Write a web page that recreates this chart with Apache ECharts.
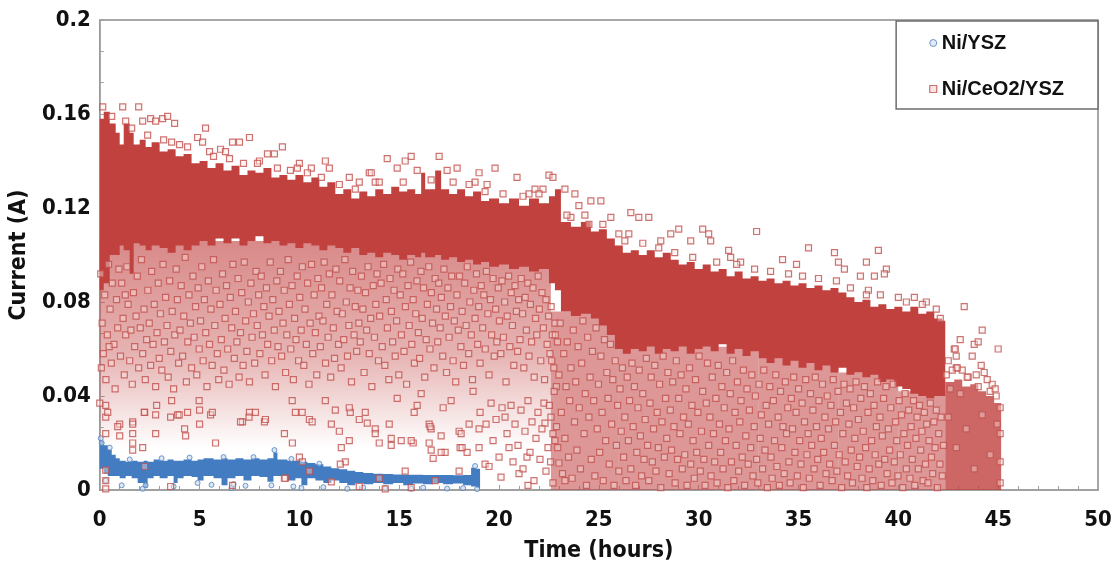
<!DOCTYPE html>
<html>
<head>
<meta charset="utf-8">
<script src="https://cdn.jsdelivr.net/npm/echarts@6/dist/echarts.min.js"></script>
<style>
  html, body { margin: 0; padding: 0; background: #fff; }
  #chart { width: 1115px; height: 574px; }
</style>
</head>
<body>
<div id="chart"></div>
<script>
// ---- Data -------------------------------------------------------------
const seriesNames = ['Ni/YSZ', 'Ni/CeO2/YSZ'];

// Dense core of the Ni/CeO2/YSZ record: [start time (h), top (A), bottom (A)];
// each row holds until the next row starts, the last one until ceriaBandEnd.
const ceriaBand = [
  [0,.158,.085],[0.2,.161,.088],[0.5,.156,.100],[0.8,.152,.100],[1.0,.147,.104],[1.2,.156,.102],
  [1.5,.152,.092],[1.7,.147,.105],[2.0,.149,.104],[2.3,.146,.102],[2.6,.148,.104],[3.0,.144,.103],
  [3.4,.145,.101],[3.8,.142,.104],[4.2,.143,.102],[4.6,.139,.104],[5.0,.140,.106],[5.4,.137,.104],
  [5.8,.139,.107],[6.2,.136,.105],[6.6,.138,.107],[7.0,.134,.104],[7.4,.136,.106],[7.8,.135,.108],
  [8.2,.137,.105],[8.6,.133,.106],[9.0,.134,.104],[9.4,.132,.105],[9.8,.134,.103],[10.2,.131,.105],
  [10.6,.133,.104],[11.0,.129,.102],[11.4,.131,.104],[11.8,.126,.103],[12.2,.128,.101],[12.6,.124,.103],
  [13.0,.127,.100],[13.4,.125,.101],[13.8,.128,.099],[14.2,.126,.101],[14.6,.129,.100],[15.0,.127,.098],
  [15.4,.128,.100],[15.8,.126,.099],[16.1,.135,.101],[16.3,.128,.099],[16.8,.136,.100],[17.1,.128,.098],
  [17.5,.126,.099],[17.9,.128,.097],[18.3,.125,.098],[18.7,.127,.096],[19.1,.123,.097],[19.5,.124,.095],
  [20.0,.122,.096],[20.5,.124,.094],[21.0,.121,.095],[21.5,.124,.093],[22.0,.122,.094],[22.5,.125,.088],
  [22.8,.128,.085],[23.1,.114,.076],[23.6,.112,.074],[24.1,.114,.075],[24.6,.110,.073],[25.0,.111,.070],
  [25.4,.107,.066],[25.8,.104,.060],[26.2,.101,.058],[26.6,.102,.060],[27.0,.100,.059],[27.4,.102,.061],
  [27.8,.099,.058],[28.2,.101,.060],[28.6,.098,.059],[29.0,.096,.061],[29.4,.097,.058],[29.8,.094,.060],
  [30.2,.096,.061],[30.6,.093,.059],[31.0,.094,.062],[31.4,.091,.058],[31.8,.093,.060],[32.2,.090,.057],
  [32.6,.091,.059],[33.0,.089,.056],[33.4,.090,.054],[33.8,.088,.056],[34.2,.089,.053],[34.6,.087,.055],
  [35.0,.088,.052],[35.4,.086,.054],[35.8,.087,.051],[36.2,.085,.053],[36.6,.086,.050],[37.0,.084,.052],
  [37.4,.082,.049],[37.8,.080,.050],[38.2,.081,.048],[38.6,.078,.049],[39.0,.079,.046],[39.4,.077,.047],
  [39.8,.078,.044],[40.2,.076,.043],[40.6,.078,.041],[41.0,.075,.040],[41.4,.076,.039],[41.8,.073,.040],
  [42.2,.072,.040]
];
const ceriaBandEnd = 42.35;

// Final hours (42.35 h to 45.15 h): crowded low-current points, [start, top, bottom]
const ceriaTail = [
  [42.35,.046,0],[42.8,.047,0],[43.2,.044,0],[43.6,.045,0],[44.0,.042,0],[44.4,.040,0],[44.8,.037,0]
];
const ceriaTailEnd = 45.15;

// Scatter spread below the core: [from (h), to (h), low (A), high (A)]
const ceriaUpperSpread = [[0, 22.6, .018, .106]];
const ceriaLowerSpread = [
  [22.6,26.0,0,.076],[26.0,33.0,0,.061],[33.0,37.0,0,.056],[37.0,40.0,0,.050],[40.0,42.35,0,.042]
];

// Individual Ni/CeO2/YSZ readings [time (h), current (A)]
const ceriaPoints = [
  // above the core
  [1.15,.163],[1.95,.163],[1.3,.157],[2.15,.157],[2.55,.158],[2.8,.157],[3.15,.158],[3.4,.159],[3.75,.156],
  [5.3,.154],[3.6,.148],[4.9,.150],[5.15,.148],[5.5,.144],[6.05,.145],[6.3,.144],[6.65,.148],[7.0,.148],
  [7.5,.150],[8.0,.140],[8.4,.143],[8.75,.143],[9.15,.146],[9.55,.136],[10.0,.139],[10.6,.137],[11.3,.140],
  [11.5,.137],[12.5,.133],[13.0,.131],[13.5,.135],[14.4,.141],[15.3,.140],[15.6,.142],[14.9,.137],[15.9,.136],
  [17.0,.142],[17.4,.136],[17.9,.137],[13.6,.135],[19.8,.137],[20.9,.133],[22.5,.134],[13.8,.131],[19.0,.135],
  [18.8,.131],[19.4,.130],[21.8,.128],[22.2,.128],[23.3,.128],[23.8,.126],[24.0,.121],[24.6,.123],[25.1,.123],
  [23.6,.116],[24.5,.113],[25.6,.116],[26.0,.109],[26.5,.109],[26.6,.118],[27.0,.116],[21.5,.126],[22.7,.133],
  [27.5,.116],[29.0,.111],[28.1,.106],[28.6,.109],[29.6,.106],[30.2,.111],[30.5,.109],[30.6,.106],[31.5,.102],
  [31.6,.099],[32.1,.097],[32.9,.110],[34.2,.098],[34.9,.096],[35.5,.103],[36.8,.101],[37.0,.097],[37.3,.094],
  [38.1,.091],[38.8,.091],[39.4,.094],[40.0,.082],[38.5,.085],[39.0,.102],[39.3,.092],[38.4,.097],[40.8,.082],
  [41.4,.080],[42.1,.073],[43.3,.078],[44.2,.068],[43.1,.064],[43.8,.062],[44.0,.063],[45.0,.060],[42.8,.060],
  [42.9,.057],[43.7,.057],[42.9,.052],[43.2,.051],[43.5,.048],[44.0,.044],[44.7,.045],[44.9,.040],
  // along the top edge of the core
  [0.15,.163],[0.6,.159],[1.6,.154],[2.4,.151],[3.2,.149],[4.0,.147],[4.4,.146],[5.7,.142],[6.5,.141],
  [7.2,.139],[7.9,.139],[8.9,.137],[9.9,.137],[10.4,.135],[11.1,.133],[12.0,.130],[12.8,.128],[14.0,.131],
  [15.2,.131],[16.6,.132],[17.7,.131],[18.5,.130],[19.3,.127],[20.2,.126],[21.2,.125],[22.0,.126],[23.4,.117],
  [24.3,.117],[25.2,.113],[26.3,.106],[27.2,.105],[28.0,.103],[28.8,.101],[29.7,.099],[30.9,.097],[31.9,.096],
  [32.8,.094],[33.6,.093],[34.5,.092],[35.2,.091],[36.0,.090],[36.9,.089],[37.6,.086],[38.4,.083],[39.1,.083],
  [40.4,.080],[41.2,.079],[41.9,.077],
  // 0 - 23 h, 0.04 - 0.1 A
  [0.05,.092],[0.12,.071],[0.18,.058],[0.25,.083],[0.31,.047],[0.38,.066],[0.44,.096],[0.52,.077],[0.58,.054],
  [0.63,.088],[0.71,.062],[0.77,.043],[0.84,.081],[0.9,.069],[0.96,.094],[0.08,.052],[0.47,.061],
  [1.04,.057],[1.1,.088],[1.17,.073],[1.23,.049],[1.3,.066],[1.36,.095],[1.42,.079],[1.5,.055],[1.56,.068],
  [1.63,.045],[1.69,.084],[1.75,.061],[1.82,.074],[1.88,.091],[1.95,.052],[1.28,.083],
  [2.03,.069],[2.09,.098],[2.15,.058],[2.22,.077],[2.28,.047],[2.35,.064],[2.41,.085],[2.48,.071],[2.55,.053],
  [2.6,.093],[2.67,.062],[2.73,.079],[2.8,.044],[2.87,.067],[2.93,.088],[2.98,.056],
  [3.04,.075],[3.11,.051],[3.17,.096],[3.24,.063],[3.3,.082],[3.37,.070],[3.43,.048],[3.5,.089],[3.56,.059],
  [3.63,.076],[3.7,.043],[3.76,.066],[3.83,.094],[3.89,.081],[3.95,.054],
  [4.02,.068],[4.08,.087],[4.15,.057],[4.21,.074],[4.28,.099],[4.34,.046],[4.41,.063],[4.47,.083],[4.54,.071],
  [4.6,.052],[4.67,.091],[4.73,.065],[4.8,.078],[4.86,.049],[4.93,.086],[4.98,.060],
  [5.05,.072],[5.11,.095],[5.18,.055],[5.24,.081],[5.31,.067],[5.37,.044],[5.44,.089],[5.5,.062],[5.57,.077],
  [5.63,.053],[5.7,.098],[5.76,.070],[5.83,.085],[5.89,.058],[5.96,.047],
  [6.02,.079],[6.09,.064],[6.15,.092],[6.22,.051],[6.28,.073],[6.35,.087],[6.41,.060],[6.48,.045],[6.54,.082],
  [6.61,.069],[6.67,.096],[6.74,.056],[6.8,.076],[6.87,.063],[6.93,.090],[6.98,.048],
  [7.05,.067],[7.11,.084],[7.18,.053],[7.24,.097],[7.31,.072],[7.37,.059],[7.44,.080],[7.5,.046],[7.57,.088],
  [7.63,.065],[7.7,.075],[7.76,.054],[7.83,.093],[7.89,.070],[7.96,.083],
  [8.02,.058],[8.09,.091],[8.15,.066],[8.22,.078],[8.28,.049],[8.35,.086],[8.41,.062],[8.48,.074],[8.54,.097],
  [8.61,.055],[8.67,.081],[8.74,.068],[8.8,.044],[8.87,.089],[8.93,.061],[8.98,.076],
  [9.05,.093],[9.11,.057],[9.18,.071],[9.24,.085],[9.31,.050],[9.37,.066],[9.44,.098],[9.5,.079],[9.57,.060],
  [9.63,.087],[9.7,.047],[9.76,.073],[9.83,.064],[9.89,.091],[9.96,.055],
  [10.02,.082],[10.09,.068],[10.15,.095],[10.22,.053],[10.28,.077],[10.35,.062],[10.41,.088],[10.48,.045],
  [10.54,.071],[10.61,.096],[10.67,.058],[10.74,.083],[10.8,.067],[10.87,.049],[10.93,.090],[10.98,.074],
  [11.05,.061],[11.11,.086],[11.18,.072],[11.24,.097],[11.31,.054],[11.37,.079],[11.44,.065],[11.5,.092],
  [11.57,.048],[11.63,.083],[11.7,.069],[11.76,.056],[11.83,.094],[11.89,.076],[11.96,.062],
  [12.02,.089],[12.09,.052],[12.15,.075],[12.22,.064],[12.28,.098],[12.35,.080],[12.41,.057],[12.48,.070],
  [12.54,.086],[12.61,.046],[12.67,.093],[12.74,.066],[12.8,.078],[12.87,.059],[12.93,.085],[12.98,.071],
  [13.05,.063],[13.11,.091],[13.18,.077],[13.24,.050],[13.31,.084],[13.37,.068],[13.44,.095],[13.5,.058],
  [13.57,.073],[13.63,.044],[13.7,.087],[13.76,.065],[13.83,.079],[13.89,.092],[13.96,.055],
  [14.02,.074],[14.09,.088],[14.15,.061],[14.22,.096],[14.28,.053],[14.35,.081],[14.41,.069],[14.48,.047],
  [14.54,.090],[14.61,.076],[14.67,.063],[14.74,.085],[14.8,.057],[14.87,.072],[14.93,.094],[14.98,.049],
  [15.05,.083],[15.11,.066],[15.18,.092],[15.24,.059],[15.31,.078],[15.37,.045],[15.44,.087],[15.5,.070],
  [15.57,.097],[15.63,.062],[15.7,.081],[15.76,.054],[15.83,.075],[15.89,.089],[15.96,.067],
  [16.02,.056],[16.09,.093],[16.15,.073],[16.22,.086],[16.28,.048],[16.35,.064],[16.41,.079],[16.48,.095],
  [16.54,.060],[16.61,.084],[16.67,.071],[16.74,.052],[16.8,.090],[16.87,.077],[16.93,.063],[16.98,.088],
  [17.05,.069],[17.11,.082],[17.18,.057],[17.24,.094],[17.31,.074],[17.37,.050],[17.44,.086],[17.5,.065],
  [17.57,.078],[17.63,.091],[17.7,.055],[17.76,.072],[17.83,.046],[17.89,.083],[17.96,.068],
  [18.02,.091],[18.09,.061],[18.15,.076],[18.22,.053],[18.28,.088],[18.35,.070],[18.41,.095],[18.48,.058],
  [18.54,.080],[18.61,.066],[18.67,.047],[18.74,.085],[18.8,.073],[18.87,.092],[18.93,.062],[18.98,.078],
  [19.05,.054],[19.11,.087],[19.18,.069],[19.24,.083],[19.31,.060],[19.37,.093],[19.44,.075],[19.5,.049],
  [19.57,.081],[19.63,.066],[19.7,.090],[19.76,.057],[19.83,.077],[19.89,.063],[19.96,.086],
  [20.02,.072],[20.09,.058],[20.15,.089],[20.22,.065],[20.28,.080],[20.35,.046],[20.41,.074],[20.48,.091],
  [20.54,.061],[20.61,.084],[20.67,.070],[20.74,.053],[20.8,.087],[20.87,.076],[20.93,.059],[20.98,.081],
  [21.05,.064],[21.11,.090],[21.18,.075],[21.24,.052],[21.31,.082],[21.37,.068],[21.44,.088],[21.5,.057],
  [21.57,.079],[21.63,.063],[21.7,.086],[21.76,.048],[21.83,.073],[21.89,.066],[21.96,.091],
  [22.02,.077],[22.09,.055],[22.15,.084],[22.22,.069],[22.28,.047],[22.35,.081],[22.41,.062],[22.48,.074],
  [22.55,.058],[22.61,.078],[22.67,.066],[22.74,.052],[22.8,.071],[22.87,.044],[22.93,.063],
  // 0 - 23 h, below 0.04 A
  [0.3,.036],[0.3,.031],[0.3,.024],[0.3,.0085],[0.3,.004],[0.3,.0005],[1.0,.028],[1.0,.023],[1.65,.029],
  [1.65,.024],[1.65,.020],[1.65,.017],[2.25,.033],[2.15,.018],[2.8,.032],[2.8,.024],[3.55,.031],[3.9,.032],
  [4.25,.026],[4.3,.023],[5.0,.034],[5.0,.028],[5.55,.032],[5.8,.020],[7.15,.029],[7.5,.033],[7.8,.033],
  [8.25,.029],[9.25,.024],[9.65,.020],[9.8,.033],[10.5,.030],[10.0,.014],[10.15,.012],[9.3,.005],[11.6,.028],
  [12.0,.025],[12.1,.018],[12.3,.012],[12.05,.011],[12.5,.021],[12.55,.033],[13.3,.033],[13.8,.026],[13.8,.024],
  [14.0,.020],[14.5,.028],[14.6,.022],[15.1,.021],[15.3,.008],[15.7,.020],[15.75,.033],[16.5,.028],[16.6,.026],
  [16.6,.017],[16.7,.0135],[17.1,.023],[17.3,.016],[18.0,.025],[18.05,.018],[18.4,.016],[18.5,.028],[19.0,.018],
  [19.3,.011],[19.05,.033],[18.0,.008],[16.8,.004],[15.6,.001],[14.3,.0005],[14.0,.005],[13.0,.0015],[11.6,.0035],
  [10.5,.008],[9.25,.005],[6.65,.002],[3.55,.0015],[2.25,.010],[1.65,.028],
  [0.0,.037],[0.4,.033],[0.9,.027],[2.23,.033],[2.85,.036],[3.6,.038],[3.98,.032],[4.4,.033],[4.98,.038],
  [5.64,.033],[7.05,.029],[7.48,.031],[8.3,.030],[9.64,.038],[10.14,.033],[10.64,.029],[11.3,.038],[11.8,.034],
  [12.5,.035],[13.0,.030],[13.4,.0285],[14.6,.019],[15.6,.021],[16.5,.020],[16.55,.027],[17.1,.016],[18.1,.024],
  [18.15,.018],[19.0,.026],[19.5,.010],[20.0,.014],[20.1,.0055],[20.5,.018],[21.0,.007],[21.4,.014],[21.45,.002],
  [22.3,.0285],[22.8,.021],[23.0,.0115],[23.3,.004],
  [20.3,.031],[20.4,.024],[20.6,.036],[20.7,.012],[20.8,.028],[20.95,.019],[21.1,.034],[21.2,.009],[21.3,.025],
  [21.45,.038],[21.55,.016],[21.65,.029],[21.75,.004],[21.85,.022],[21.95,.033],[22.05,.013],[22.15,.026],
  [22.25,.037],[22.35,.008],[22.45,.018],[22.6,.031],[22.7,.024],[20.15,.035],[19.85,.030],[19.7,.021],
  [19.6,.037],[19.35,.028],[14.9,.039],[16.1,.041],[17.6,.038],[18.7,.042],[15.9,.036],[17.2,.035],
  // 22.5 - 42.3 h, below the core
  [22.52,.036],[22.58,.012],[22.64,.055],[22.7,.003],[22.76,.042],[22.82,.066],[22.88,.027],[22.94,.018],
  [23.0,.049],[23.06,.071],[23.12,.033],[23.18,.007],[23.24,.058],[23.3,.022],[23.36,.044],[23.42,.063],[23.48,.014],
  [23.54,.038],[23.6,.052],[23.66,.005],[23.72,.068],[23.78,.029],[23.84,.046],[23.9,.017],[23.96,.061],
  [24.02,.035],[24.08,.009],[24.14,.054],[24.2,.072],[24.26,.024],[24.32,.041],[24.38,.002],[24.44,.065],
  [24.5,.031],[24.56,.048],[24.62,.013],[24.68,.059],[24.74,.038],[24.8,.006],[24.86,.069],[24.92,.026],
  [24.98,.045],[25.04,.016],[25.1,.057],[25.16,.033],[25.22,.004],[25.28,.064],[25.34,.021],[25.4,.050],[25.46,.039],
  [25.52,.011],[25.58,.062],[25.64,.028],[25.7,.047],[25.76,.002],[25.82,.055],[25.88,.019],[25.94,.036],
  [26.0,.008],[26.06,.043],[26.12,.025],[26.18,.052],[26.24,.014],[26.3,.031],[26.36,.004],[26.42,.048],
  [26.48,.021],[26.54,.038],[26.6,.009],[26.66,.054],[26.72,.027],[26.78,.044],[26.84,.002],[26.9,.016],
  [26.96,.035],[27.02,.051],[27.08,.023],[27.14,.006],[27.2,.041],[27.26,.013],[27.32,.030],[27.38,.056],[27.44,.019],
  [27.5,.004],[27.56,.037],[27.62,.048],[27.68,.012],[27.74,.026],[27.8,.053],[27.86,.008],[27.92,.033],
  [27.98,.018],[28.04,.045],[28.1,.001],[28.16,.029],[28.22,.057],[28.28,.014],[28.34,.039],[28.4,.022],[28.46,.050],
  [28.52,.007],[28.58,.034],[28.64,.017],[28.7,.046],[28.76,.027],[28.82,.003],[28.88,.055],[28.94,.013],
  [29.0,.039],[29.06,.024],[29.12,.049],[29.18,.009],[29.24,.031],[29.3,.015],[29.36,.043],[29.42,.002],
  [29.48,.028],[29.54,.052],[29.6,.011],[29.66,.036],[29.72,.021],[29.78,.005],[29.84,.047],[29.9,.016],
  [29.96,.033],[30.02,.057],[30.08,.008],[30.14,.025],[30.2,.042],[30.26,.013],[30.32,.002],[30.38,.037],[30.44,.054],
  [30.5,.019],[30.56,.031],[30.62,.006],[30.68,.048],[30.74,.024],[30.8,.012],[30.86,.039],[30.92,.003],
  [30.98,.053],[31.04,.028],[31.1,.016],[31.16,.044],[31.22,.009],[31.28,.035],[31.34,.021],[31.4,.050],[31.46,.001],
  [31.52,.026],[31.58,.041],[31.64,.012],[31.7,.055],[31.76,.004],[31.82,.033],[31.88,.019],[31.94,.046],
  [32.0,.008],[32.06,.029],[32.12,.038],[32.18,.014],[32.24,.051],[32.3,.002],[32.36,.023],[32.42,.043],
  [32.48,.011],[32.54,.034],[32.6,.018],[32.66,.049],[32.72,.006],[32.78,.027],[32.84,.040],[32.9,.013],
  [32.96,.003],[33.02,.045],[33.08,.022],[33.14,.032],[33.2,.009],[33.26,.051],[33.32,.017],[33.38,.036],[33.44,.001],
  [33.5,.028],[33.56,.044],[33.62,.014],[33.68,.005],[33.74,.038],[33.8,.021],[33.86,.049],[33.92,.010],
  [33.98,.031],[34.04,.002],[34.1,.042],[34.16,.018],[34.22,.027],[34.28,.007],[34.34,.046],[34.4,.024],[34.46,.035],
  [34.52,.012],[34.58,.003],[34.64,.039],[34.7,.026],[34.76,.048],[34.82,.016],[34.88,.033],[34.94,.006],
  [35.0,.043],[35.06,.021],[35.12,.011],[35.18,.037],[35.24,.001],[35.3,.029],[35.36,.047],[35.42,.015],
  [35.48,.024],[35.54,.005],[35.6,.041],[35.66,.019],[35.72,.034],[35.78,.009],[35.84,.048],[35.9,.027],
  [35.96,.013],[36.02,.038],[36.08,.002],[36.14,.022],[36.2,.045],[36.26,.016],[36.32,.031],[36.38,.007],[36.44,.040],
  [36.5,.026],[36.56,.011],[36.62,.036],[36.68,.004],[36.74,.047],[36.8,.019],[36.86,.029],[36.92,.008],
  [36.98,.042],[37.04,.015],[37.1,.033],[37.16,.001],[37.22,.024],[37.28,.045],[37.34,.012],[37.4,.037],
  [37.46,.006],[37.52,.028],[37.58,.043],[37.64,.017],[37.7,.003],[37.76,.035],[37.82,.022],[37.88,.046],
  [37.94,.010],[38.0,.030],[38.06,.014],[38.12,.039],[38.18,.005],[38.24,.025],[38.3,.044],[38.36,.018],[38.42,.001],
  [38.48,.033],[38.54,.009],[38.6,.041],[38.66,.021],[38.72,.004],[38.78,.036],[38.84,.015],[38.9,.027],
  [38.96,.046],[39.02,.011],[39.08,.031],[39.14,.002],[39.2,.023],[39.26,.039],[39.32,.013],[39.38,.044],[39.44,.007],
  [39.5,.026],[39.56,.017],[39.62,.035],[39.68,.003],[39.74,.045],[39.8,.012],[39.86,.029],[39.92,.021],
  [39.98,.006],[40.04,.038],[40.1,.015],[40.16,.032],[40.22,.001],[40.28,.024],[40.34,.041],[40.4,.009],
  [40.46,.019],[40.52,.034],[40.58,.005],[40.64,.027],[40.7,.013],[40.76,.038],[40.82,.002],[40.88,.022],
  [40.94,.031],[41.0,.009],[41.06,.036],[41.12,.017],[41.18,.025],[41.24,.004],[41.3,.033],[41.36,.011],[41.42,.028],
  [41.48,.003],[41.54,.021],[41.6,.037],[41.66,.014],[41.72,.007],[41.78,.029],[41.84,.018],[41.9,.034],
  [41.96,.001],[42.02,.024],[42.08,.011],[42.14,.031],[42.2,.006],[42.26,.019],
  // final hours
  [42.4,.049],[42.5,.055],[42.6,.043],[42.7,.051],[42.85,.060],[42.95,.052],[43.1,.041],[43.45,.048],
  [43.9,.049],[44.15,.053],[44.3,.050],[44.45,.047],[44.6,.042],[44.85,.043],[45.1,.035],[45.1,.024],
  [45.1,.012],[45.1,.003],[42.5,.031],[42.9,.018],[43.4,.026],[43.8,.009],[44.2,.032],[44.6,.015],[44.95,.028]
];

// Dense record of the Ni/YSZ cell: [start time (h), top (A), bottom (A)]
const nickelBand = [
  [0,.021,.009],[0.2,.019,.007],[0.4,.017,.006],[0.6,.015,.006],[0.8,.0135,.006],[1.0,.0125,.005],
  [1.3,.012,.006],[1.6,.0125,.005],[1.9,.012,.003],[2.2,.0125,.001],[2.4,.012,.005],[2.7,.013,.006],
  [3.0,.0125,.005],[3.4,.013,.006],[3.7,.0125,.003],[3.9,.0125,.005],[4.2,.013,.006],[4.6,.0125,.0055],
  [4.9,.013,.004],[5.2,.0135,.006],[5.7,.013,.005],[6.1,.0135,.002],[6.4,.013,.005],[6.8,.0135,.006],
  [7.2,.013,.004],[7.6,.0135,.006],[8.0,.013,.0055],[8.4,.0135,.0035],[8.7,.016,.006],[8.9,.013,.006],
  [9.4,.0125,.004],[9.8,.0125,.005],[10.1,.012,.002],[10.4,.0115,.005],[10.8,.011,.004],[11.2,.0100,.003],
  [11.6,.0093,.004],[12.0,.0088,.003],[12.4,.0082,.002],[12.8,.0077,.003],[13.2,.0072,.0025],[13.7,.0069,.003],
  [14.2,.0068,.0025],[14.7,.0066,.003],[15.2,.0065,.002],[15.7,.0065,.0028],[16.2,.0064,.0025],[16.7,.0064,.003],
  [17.2,.0064,.0025],[17.7,.0063,.0028],[18.2,.0064,.002],[18.6,.0095,.0015],[18.85,.009,.001]
];
const nickelBandEnd = 19.05;

// Individual Ni/YSZ readings [time (h), current (A)]
const nickelPoints = [
  [0.05,.022],[0.1,.020],[0.3,.004],[1.1,.002],[2.15,.0005],[2.3,.002],[3.7,.0015],[4.9,.003],[6.6,.0008],
  [6.7,.0025],[8.6,.002],[9.7,.0015],[10.1,.0008],[11.2,.0012],[12.4,.0005],[13.2,.001],[14.3,.0008],
  [15.6,.0005],[16.2,.001],[17.4,.0006],[18.2,.0008],[18.9,.0004],[5.6,.0022],[7.3,.0018],[8.75,.017],
  [0.5,.018],[1.5,.013],[3.1,.0135],[4.5,.0138],[6.2,.014],[7.7,.014],[9.6,.0132],[11.0,.0112],[18.8,.0102]
];

const xTickLabels = ['0', '5', '10', '15', '20', '25', '30', '35', '40', '45', '50'];
const yTickLabels = ['0', '0.04', '0.08', '0.12', '0.16', '0.2'];

// ---- Drawing ------------------------------------------------------------
const RED = '#C0504D';
const RED_CORE = '#C1413F';
const BLUE = '#4F81BD';
const BLUE_CORE = '#437CC0';
const narrow = '"Liberation Sans Narrow", "Arial Narrow", "DejaVu Sans Condensed", "Liberation Sans", Arial, sans-serif';
const regular = '"Liberation Sans", Arial, sans-serif';

// One stepped outline per band: along the tops left to right, back along the bottoms.
function bandSeries(name, rows, end, fill, z) {
  const data = rows.map((r, i) => [r[0], i + 1 < rows.length ? rows[i + 1][0] : end, r[2], r[1]]);
  return {
    name: name, type: 'custom', z: z, silent: true, clip: true,
    data: data,
    encode: { x: [0, 1], y: [2, 3] },
    renderItem: function (params, api) {
      if (params.dataIndex !== 0) return null;
      const pts = [];
      data.forEach(d => { pts.push(api.coord([d[0], d[3]])); pts.push(api.coord([d[1], d[3]])); });
      for (let i = data.length - 1; i >= 0; i--) {
        const d = data[i];
        pts.push(api.coord([d[1], d[2]])); pts.push(api.coord([d[0], d[2]]));
      }
      return { type: 'polygon', shape: { points: pts }, style: { fill: fill } };
    }
  };
}
// Plain blocks [from, to, low, high]
function spreadSeries(name, rows, fill, z) {
  return {
    name: name, type: 'custom', z: z, silent: true, clip: true,
    data: rows,
    encode: { x: [0, 1], y: [2, 3] },
    renderItem: function (params, api) {
      const a = api.coord([api.value(0), api.value(3)]);
      const b = api.coord([api.value(1), api.value(2)]);
      return { type: 'rect', shape: { x: a[0], y: a[1], width: b[0] - a[0], height: b[1] - a[1] }, style: { fill: fill } };
    }
  };
}

const chart = echarts.init(document.getElementById('chart'), null, { renderer: 'canvas' });

chart.setOption({
  animation: false,
  backgroundColor: '#fff',
  grid: {
    left: 97, right: 17, top: 20, bottom: 84,
    show: true, borderColor: '#8a8a8a', borderWidth: 1.5, backgroundColor: 'transparent'
  },
  legend: {
    data: [
      { name: seriesNames[0], icon: 'circle', itemStyle: { color: '#dbe5f1', borderColor: BLUE, borderWidth: 1 } },
      { name: seriesNames[1], icon: 'rect', itemStyle: { color: '#f7e0df', borderColor: RED, borderWidth: 1.2 } }
    ],
    orient: 'vertical',
    right: 17, top: 21,
    padding: [12, 34, 10, 33],
    itemGap: 26,
    itemWidth: 7, itemHeight: 7,
    backgroundColor: '#fff',
    borderColor: '#6d6d6d', borderWidth: 1.5, borderRadius: 0,
    textStyle: { fontFamily: regular, fontWeight: 'bold', fontSize: 20, color: '#111' },
    selectedMode: false
  },
  xAxis: {
    type: 'value', min: 0, max: 50, interval: 5,
    name: 'Time (hours)', nameLocation: 'middle', nameGap: 50,
    nameTextStyle: { fontFamily: narrow, fontWeight: 'bold', fontSize: 23, color: '#111' },
    axisLine: { show: true, onZero: false, lineStyle: { color: '#a0a0a0', width: 1.5 } },
    axisTick: { show: true, inside: true, length: 5, lineStyle: { color: '#a0a0a0' } },
    minorTick: { show: true, splitNumber: 5, length: 4, lineStyle: { color: '#a0a0a0' } },
    splitLine: { show: false },
    axisLabel: {
      margin: 19, fontFamily: narrow, fontWeight: 'bold', fontSize: 22, color: '#111',
      formatter: v => xTickLabels[Math.round(v / 5)]
    }
  },
  yAxis: {
    type: 'value', min: 0, max: 0.2, interval: 0.04,
    name: 'Current (A)', nameLocation: 'middle', nameGap: 52, nameRotate: 90,
    nameTextStyle: { fontFamily: narrow, fontWeight: 'bold', fontSize: 23, color: '#111' },
    axisLine: { show: true, lineStyle: { color: '#a0a0a0', width: 1.5 } },
    axisTick: { show: true, inside: true, length: 5, lineStyle: { color: '#a0a0a0' } },
    minorTick: { show: true, splitNumber: 3, length: 4, lineStyle: { color: '#a0a0a0' } },
    splitLine: { show: false },
    axisLabel: {
      margin: 9, fontFamily: narrow, fontWeight: 'bold', fontSize: 22, color: '#111',
      formatter: v => yTickLabels[Math.round(v / 0.04)]
    }
  },
  series: [
    spreadSeries('upper spread', ceriaUpperSpread, {
      type: 'linear', x: 0, y: 0, x2: 0, y2: 1,
      colorStops: [
        { offset: 0, color: 'rgba(192,66,64,0.62)' },
        { offset: 0.55, color: 'rgba(192,66,64,0.40)' },
        { offset: 1, color: 'rgba(192,66,64,0)' }
      ]
    }, 1),
    spreadSeries('lower spread', ceriaLowerSpread, 'rgba(192,66,64,0.55)', 1),
    bandSeries('tail', ceriaTail, ceriaTailEnd, 'rgba(193,65,63,0.8)', 1),
    bandSeries('Ni/YSZ core', nickelBand, nickelBandEnd, BLUE_CORE, 2),
    {
      name: seriesNames[0], type: 'scatter', data: nickelPoints, z: 3, silent: true,
      symbol: 'circle', symbolSize: 5,
      itemStyle: { color: 'rgba(200,218,240,0.8)', borderColor: BLUE, borderWidth: 1 }
    },
    bandSeries('Ni/CeO2/YSZ core', ceriaBand, ceriaBandEnd, RED_CORE, 4),
    {
      name: seriesNames[1], type: 'scatter', data: ceriaPoints, z: 5, silent: true,
      symbol: 'rect', symbolSize: 6,
      itemStyle: { color: 'rgba(252,232,231,0.5)', borderColor: RED, borderWidth: 1.2 }
    }
  ]
});
</script>
</body>
</html>
